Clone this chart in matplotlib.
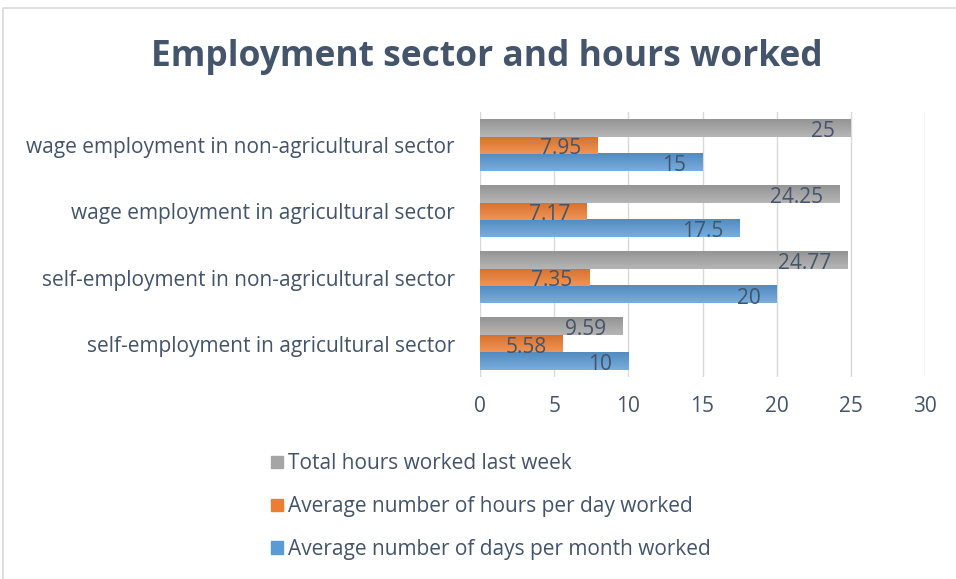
import numpy as np
import matplotlib.pyplot as plt
from matplotlib.colors import to_rgb
from matplotlib.patches import Rectangle, Patch

plt.rcParams['font.family'] = ['Open Sans', 'DejaVu Sans']

sectors = [
    "self-employment in agricultural sector",
    "self-employment in non-agricultural sector",
    "wage employment in agricultural sector",
    "wage employment in non-agricultural sector",
]
days_per_month = [10, 20, 17.5, 15]
hours_per_day = [5.58, 7.35, 7.17, 7.95]
hours_last_week = [9.59, 24.77, 24.25, 25]
label_days = ["10", "20", "17.5", "15"]
label_hours = ["5.58", "7.35", "7.17", "7.95"]
label_week = ["9.59", "24.77", "24.25", "25"]

text_col = "#44546A"
c_blue = "#5B9BD5"
c_orange = "#ED7D31"
c_gray = "#A5A5A5"


def shade_bar(ax, bar, col):
    # vertical gradient: a bit lighter at the top edge, darker at the bottom
    base = np.array(to_rgb(col))
    t = np.linspace(0, 1, 32)[:, None]
    top = base + (1 - base) * 0.18
    bot = base * 0.9
    grad = top * (1 - t) + bot * t
    x0, y0 = bar.get_x(), bar.get_y()
    w, hh = bar.get_width(), bar.get_height()
    ax.imshow(grad[:, None, :], aspect="auto", interpolation="bilinear",
              extent=(x0, x0 + w, y0, y0 + hh), origin="lower", zorder=2)
    bar.set_visible(False)


fig = plt.figure(figsize=(9.56, 5.79), dpi=100)
fig.patches.append(Rectangle((3 / 956, -0.1), 1.2, 1 - 8 / 579 + 0.1,
                             transform=fig.transFigure, fill=False,
                             edgecolor="#D9D9D9", linewidth=1.2))

ax = fig.add_axes([480 / 956, 1 - 377 / 579, 445 / 956, 265 / 579])
y = np.arange(len(sectors))
h = 0.26

series = [
    (days_per_month, label_days, c_blue, -h),
    (hours_per_day, label_hours, c_orange, 0),
    (hours_last_week, label_week, c_gray, h),
]
for vals, labels, col, off in series:
    bars = ax.barh(y + off, vals, height=h, color=col, zorder=2)
    for b, lab in zip(bars, labels):
        shade_bar(ax, b, col)
        ax.text(b.get_width() - 1.1, b.get_y() + b.get_height() / 2 - 0.05, lab,
                ha="right", va="center", fontsize=15, color=text_col, zorder=3)

ax.set_xlim(0, 30)
ax.set_ylim(-0.5, 3.5)
ax.set_xticks(range(0, 31, 5))
ax.set_yticks(y)
ax.set_yticklabels(sectors)
ax.grid(axis="x", color="#D9D9D9", linewidth=1, zorder=0)
ax.set_axisbelow(True)
for s in ax.spines.values():
    s.set_visible(False)
ax.tick_params(length=0, labelsize=15, labelcolor=text_col)
ax.tick_params(axis="x", pad=14)
ax.tick_params(axis="y", pad=18)

fig.text(487 / 956, 1 - 57 / 579, "Employment sector and hours worked",
         ha="center", va="center", fontsize=25.5, fontweight="bold", color=text_col)

handles = [Patch(color=c_gray), Patch(color=c_orange), Patch(color=c_blue)]
names = ["Total hours worked last week",
         "Average number of hours per day worked",
         "Average number of days per month worked"]
fig.legend(handles, names, loc="upper left",
           bbox_to_anchor=(263 / 956, 1 - 445 / 579), frameon=False,
           fontsize=15, labelcolor=text_col, handlelength=0.55,
           handleheight=0.55, handletextpad=0.25, labelspacing=1.05,
           borderaxespad=0)

fig.savefig("out.png", dpi=100)
